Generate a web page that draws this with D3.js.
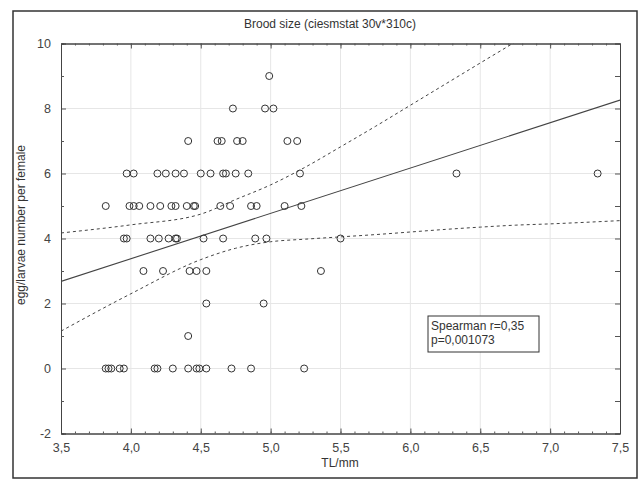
<!DOCTYPE html>
<html>
<head>
<meta charset="utf-8">
<script src="https://cdn.jsdelivr.net/npm/d3@7"></script>
<style>
body { margin: 0; background: #fff; }
text { font-family: "Liberation Sans", Arial, sans-serif; }
</style>
</head>
<body>
<svg id="svg" width="644" height="486"></svg>
<script>
// TL/mm and brood size, read row by row (eggs per female)
var tl = [
	4.99,
	4.73, 4.96, 5.02,
	4.41, 4.62, 4.65, 4.76, 4.80, 5.12, 5.19,
	3.97, 4.02, 4.19, 4.25, 4.32, 4.38, 4.50, 4.57, 4.66, 4.68, 4.75, 4.84, 5.21, 6.33, 7.34,
	3.82, 3.99, 4.02, 4.06, 4.14, 4.21, 4.29, 4.32, 4.40, 4.45, 4.46, 4.64, 4.71, 4.86, 4.90, 5.10, 5.22,
	3.95, 3.97, 4.14, 4.20, 4.27, 4.32, 4.33, 4.52, 4.66, 4.89, 4.97, 5.50,
	4.09, 4.23, 4.42, 4.47, 4.54, 5.36,
	4.54, 4.95,
	4.41,
	3.82, 3.84, 3.86, 3.92, 3.95, 4.17, 4.19, 4.30, 4.41, 4.47, 4.49, 4.54, 4.72, 4.86, 5.24
];
var brood = [
	9,
	8, 8, 8,
	7, 7, 7, 7, 7, 7, 7,
	6, 6, 6, 6, 6, 6, 6, 6, 6, 6, 6, 6, 6, 6, 6,
	5, 5, 5, 5, 5, 5, 5, 5, 5, 5, 5, 5, 5, 5, 5, 5, 5,
	4, 4, 4, 4, 4, 4, 4, 4, 4, 4, 4, 4,
	3, 3, 3, 3, 3, 3,
	2, 2,
	1,
	0, 0, 0, 0, 0, 0, 0, 0, 0, 0, 0, 0, 0, 0, 0
];

// fitted line and 95% band
var fitX = [3.5, 7.5];
var fitY = [2.68, 8.26];
var bandX = [3.5, 4.0, 4.5, 4.75, 5.0, 5.25, 5.5, 5.75, 6.0, 6.25, 6.5, 6.75, 7.0, 7.5];
var upperY = [4.17, 4.42, 4.75, 5.2, 5.65, 6.2, 6.82, 7.45, 8.1, 8.75, 9.4, 10.05, 10.75, 12.0];
var lowerY = [1.15, 2.3, 3.35, 3.7, 3.9, 3.98, 4.05, 4.12, 4.2, 4.28, 4.35, 4.41, 4.45, 4.55];

var xTicks = [3.5, 4.0, 4.5, 5.0, 5.5, 6.0, 6.5, 7.0, 7.5];
var yTicks = [-2, 0, 2, 4, 6, 8, 10];

var title = "Brood size (ciesmstat 30v*310c)";
var xTitle = "TL/mm";
var yTitle = "egg/larvae number per female";
var statLines = ["Spearman r=0,35", "p=0,001073"];

var svg = d3.select("#svg");
var pLeft = 61, pRight = 620, pTop = 43.5, pBottom = 433.5;

var x = d3.scaleLinear().domain([3.5, 7.5]).range([pLeft, pRight]);
var y = d3.scaleLinear().domain([-2, 10]).range([pBottom, pTop]);

function comma(v){
	return d3.format(".1f")(v).replace(".", ",");
}

// outer frame
svg.append("rect").attr("x", 13).attr("y", 11).attr("width", 624).attr("height", 467)
	.attr("fill", "#fff").attr("stroke", "#333").attr("stroke-width", 1.5);

// grid
var grid = svg.append("g").attr("stroke", "#e6e6e6").attr("stroke-width", 1);
grid.selectAll("line.gx").data(xTicks.slice(1, -1)).enter().append("line")
	.attr("x1", function(d){ return x(d); }).attr("x2", function(d){ return x(d); })
	.attr("y1", pTop).attr("y2", pBottom);
grid.selectAll("line.gy").data(yTicks.slice(1, -1)).enter().append("line")
	.attr("y1", function(d){ return y(d); }).attr("y2", function(d){ return y(d); })
	.attr("x1", pLeft).attr("x2", pRight);

svg.append("defs").append("clipPath").attr("id", "clip")
	.append("rect").attr("x", pLeft).attr("y", pTop).attr("width", pRight - pLeft).attr("height", pBottom - pTop);

// band + fit
var line = d3.line().x(function(d){ return x(d[0]); }).y(function(d){ return y(d[1]); });
var smooth = d3.line().curve(d3.curveMonotoneX).x(function(d){ return x(d[0]); }).y(function(d){ return y(d[1]); });
var lines = svg.append("g").attr("clip-path", "url(#clip)").attr("fill", "none").attr("stroke", "#444");
lines.append("path").attr("d", line(d3.zip(fitX, fitY))).attr("stroke-width", 1.1);
lines.append("path").attr("d", smooth(d3.zip(bandX, upperY))).attr("stroke-width", 1).attr("stroke-dasharray", "3,3");
lines.append("path").attr("d", smooth(d3.zip(bandX, lowerY))).attr("stroke-width", 1).attr("stroke-dasharray", "3,3");

// points
svg.append("g").selectAll("circle").data(d3.zip(tl, brood)).enter().append("circle")
	.attr("cx", function(d){ return x(d[0]); }).attr("cy", function(d){ return y(d[1]); })
	.attr("r", 3.5).attr("fill", "none").attr("stroke", "#333").attr("stroke-width", 1);

// axes
var xMinor = d3.range(36, 75).map(function(i){ return i / 10; });
var yMinor = d3.range(-1, 10, 2);
svg.append("g").attr("transform", "translate(0," + pBottom + ")")
	.call(d3.axisBottom(x).tickValues(xTicks).tickSize(-5).tickPadding(10).tickFormat(comma));
svg.append("g").attr("transform", "translate(0," + pBottom + ")")
	.call(d3.axisBottom(x).tickValues(xMinor).tickSize(-2).tickFormat(""));
svg.append("g").attr("transform", "translate(0," + pTop + ")")
	.call(d3.axisTop(x).tickValues(xTicks).tickSize(-5).tickFormat(""));
svg.append("g").attr("transform", "translate(0," + pTop + ")")
	.call(d3.axisTop(x).tickValues(xMinor).tickSize(-2).tickFormat(""));
svg.append("g").attr("transform", "translate(" + pLeft + ",0)")
	.call(d3.axisLeft(y).tickValues(yTicks).tickSize(-5).tickPadding(10).tickFormat(function(d){ return String(d); }));
svg.append("g").attr("transform", "translate(" + pLeft + ",0)")
	.call(d3.axisLeft(y).tickValues(yMinor).tickSize(-3).tickFormat(""));
svg.append("g").attr("transform", "translate(" + pRight + ",0)")
	.call(d3.axisRight(y).tickValues(yTicks.concat(yMinor)).tickSize(-5).tickFormat(""));

svg.selectAll(".domain").attr("stroke", "#444");
svg.selectAll(".tick line").attr("stroke", "#555");
svg.selectAll(".tick text").attr("font-size", 12.5).attr("fill", "#444")
	.attr("font-family", "Liberation Sans, Arial, sans-serif");

// titles
svg.append("text").attr("x", 330).attr("y", 28).attr("text-anchor", "middle")
	.attr("font-size", 12).attr("fill", "#333").text(title);
svg.append("text").attr("x", 340).attr("y", 467).attr("text-anchor", "middle")
	.attr("font-size", 12).attr("fill", "#333").text(xTitle);
svg.append("text").attr("transform", "translate(25,225) rotate(-90)").attr("text-anchor", "middle")
	.attr("font-size", 12).attr("fill", "#333").text(yTitle);

// stat box
var box = svg.append("g");
box.append("rect").attr("x", 428).attr("y", 316).attr("width", 111).attr("height", 36)
	.attr("fill", "#fff").attr("stroke", "#333").attr("stroke-width", 1);
box.selectAll("text").data(statLines).enter().append("text")
	.attr("x", 431).attr("y", function(d, i){ return 330 + i * 14; })
	.attr("font-size", 12).attr("fill", "#333").text(function(d){ return d; });
</script>
</body>
</html>
